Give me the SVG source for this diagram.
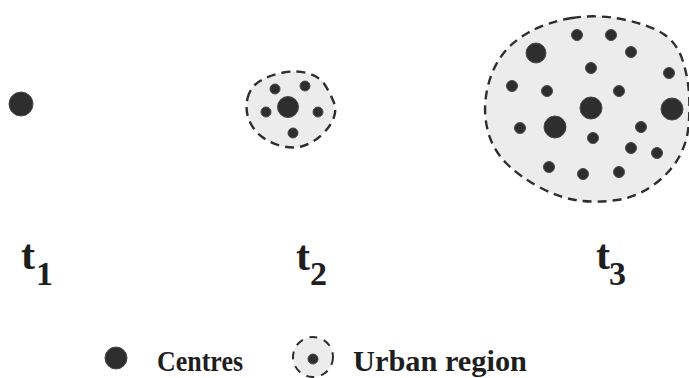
<svg xmlns="http://www.w3.org/2000/svg" width="689" height="378" viewBox="0 0 689 378">
<style>
.region{fill:#ececec;stroke:#2e2e2e;stroke-width:2.4;stroke-dasharray:9 6;stroke-linecap:butt}
.c{fill:#2e2e2e;stroke:#4a4a4a;stroke-width:1}
.t{font-family:"Liberation Serif","Times New Roman",serif;font-weight:bold;fill:#1e1e1e}
.lbl{font-size:42px}
.sub{font-size:34px}
.leg{font-size:29px}
</style>
<rect width="689" height="378" fill="#ffffff"/>
<g id="t1-stage">
  <circle class="c" cx="21" cy="104" r="12"/>
</g>
<g id="t2-stage">
  <path class="region" d="M247.5,98.5 Q250,87 260,81 Q270,75 283.5,72.5 Q297,70 308.5,73.5 Q320,77 325,85 Q330,93 333.5,101.5 Q337,110 333.5,118.5 Q330,127 321.5,135 Q313,143 303,146 Q293,149 281.5,146 Q270,143 261.5,136.5 Q253,130 249,120 Q245,110 247.5,98.5 Z"/>
  <circle class="c" cx="288" cy="107" r="10.5"/>
  <circle class="c" cx="275" cy="89" r="5"/>
  <circle class="c" cx="305" cy="86" r="5"/>
  <circle class="c" cx="266" cy="112" r="5"/>
  <circle class="c" cx="318" cy="112" r="5"/>
  <circle class="c" cx="293" cy="133" r="5"/>
</g>
<g id="t3-stage">
  <path class="region" d="M572,18 Q597,14 623.5,19.5 Q650,25 663.5,34 Q677,43 682.5,60 Q688,77 689,93.5 Q690,110 688.5,126.5 Q687,143 678.5,158 Q670,173 653.5,185 Q637,197 617,200 Q597,203 578.5,200.5 Q560,198 540,187.5 Q520,177 506.5,163.5 Q493,150 488,131.5 Q483,113 486.5,93 Q490,73 500,58 Q510,43 528.5,32.5 Q547,22 572,18 Z"/>
  <circle class="c" cx="536" cy="53" r="10"/>
  <circle class="c" cx="591" cy="108" r="11"/>
  <circle class="c" cx="672" cy="109" r="11"/>
  <circle class="c" cx="555" cy="127" r="11"/>
  <circle class="c" cx="577" cy="35" r="5.5"/>
  <circle class="c" cx="611" cy="35" r="5.5"/>
  <circle class="c" cx="631" cy="52" r="5.5"/>
  <circle class="c" cx="591" cy="68" r="5.5"/>
  <circle class="c" cx="669" cy="73" r="5.5"/>
  <circle class="c" cx="512" cy="86" r="5.5"/>
  <circle class="c" cx="547" cy="91" r="5.5"/>
  <circle class="c" cx="619" cy="91" r="5.5"/>
  <circle class="c" cx="520" cy="128" r="5.5"/>
  <circle class="c" cx="641" cy="127" r="5.5"/>
  <circle class="c" cx="593" cy="138" r="5.5"/>
  <circle class="c" cx="631" cy="148" r="5.5"/>
  <circle class="c" cx="657" cy="153" r="5.5"/>
  <circle class="c" cx="549" cy="167" r="5.5"/>
  <circle class="c" cx="583" cy="174" r="5.5"/>
  <circle class="c" cx="619" cy="172" r="5.5"/>
</g>
<g id="labels">
  <text class="t lbl" x="21" y="269">t<tspan class="sub" x="36" y="285">1</tspan></text>
  <text class="t lbl" x="296" y="270">t<tspan class="sub" x="310" y="285">2</tspan></text>
  <text class="t lbl" x="596" y="269">t<tspan class="sub" x="609" y="285">3</tspan></text>
</g>
<g id="legend">
  <g id="legend-centres">
    <circle class="c" cx="116" cy="358" r="11"/>
    <text class="t leg" x="157" y="371" textLength="86" lengthAdjust="spacingAndGlyphs">Centres</text>
  </g>
  <g id="legend-urban">
    <circle class="region" cx="313" cy="357" r="20" style="stroke-dasharray:8 7;stroke-width:2"/>
    <circle class="c" cx="313" cy="359" r="5"/>
    <text class="t leg" x="353" y="371" textLength="174" lengthAdjust="spacingAndGlyphs">Urban region</text>
  </g>
</g>
</svg>
